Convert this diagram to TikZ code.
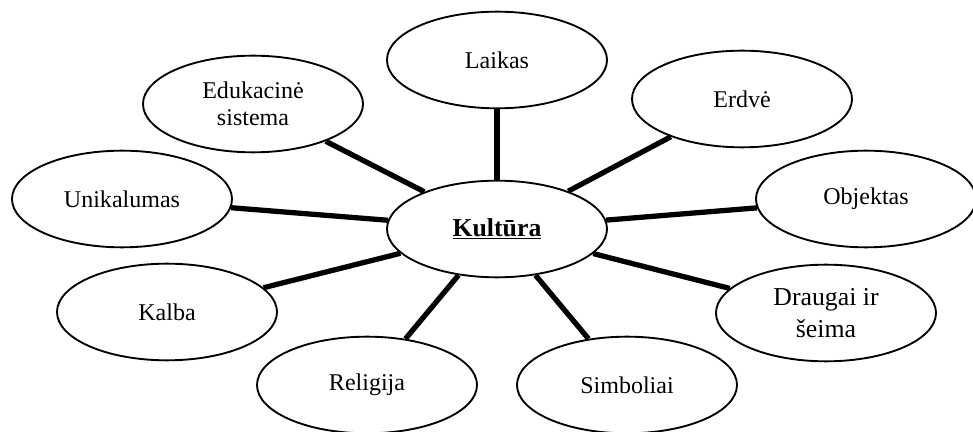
\documentclass[tikz,border=0pt]{standalone}
\usepackage{fontspec}
\setmainfont{Liberation Serif}
\usetikzlibrary{shapes.geometric}

\begin{document}
\begin{tikzpicture}[x=0.03cm, y=-0.03cm,
    topic/.style={draw, ellipse, line width=1.6pt, minimum width=6.6cm, minimum height=2.9cm,
        inner sep=0pt, align=center, font=\fontsize{20.5}{23}\selectfont},
    link/.style={line width=4.5pt}]
    \useasboundingbox (0,0) rectangle (973,432);

    \node [topic, font=\fontsize{22}{26}\selectfont] (kultura) at (497,229) {\underline{\textbf{Kultūra}}};

    \node [topic] (laikas)     at (497,60)  {Laikas};
    \node [topic] (edukacine)  at (253,104) {Edukacinė\\sistema};
    \node [topic] (erdve)      at (742,99)  {Erdvė};
    \node [topic] (unikalumas) at (122,199) {Unikalumas};
    \node [topic] (objektas)   at (866,199) {Objektas};
    \node [topic] (kalba)      at (167,312) {Kalba};
    \node [topic, font=\fontsize{22}{27}\selectfont] (draugai) at (826,313) {Draugai ir\\šeima};
    \node [topic] (religija)   at (367,385) {Religija};
    \node [topic] (simboliai)  at (627,385) {Simboliai};

    \draw [link] (kultura) -- (laikas);
    \draw [link] (kultura) -- (edukacine);
    \draw [link] (kultura) -- (erdve);
    \draw [link] (kultura) -- (unikalumas);
    \draw [link] (kultura) -- (objektas);
    \draw [link] (kultura) -- (kalba);
    \draw [link] (kultura) -- (draugai);
    \draw [link] (kultura) -- (religija);
    \draw [link] (kultura) -- (simboliai);
\end{tikzpicture}
\end{document}
